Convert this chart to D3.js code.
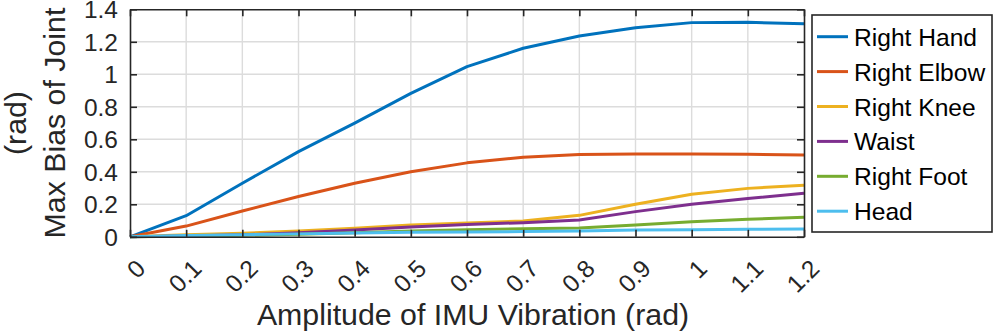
<!DOCTYPE html>
<html>
<head>
<meta charset="utf-8">
<title>Max Bias of Joint</title>
<script src="https://cdn.jsdelivr.net/npm/d3@7"></script>
<style>
  body { margin: 0; background: #fff; }
  svg { display: block; font-family: 'Liberation Sans', Arial, Helvetica, sans-serif; }
  .grid line { stroke: #dcdcdc; stroke-width: 1.4; }
  .tickLabel { font-size: 24.5px; fill: #262626; }
  .axisLabel { font-size: 30.3px; fill: #262626; }
  .legend text { font-size: 24.6px; fill: #000; }
</style>
</head>
<body>
<svg class="chart"></svg>
<script>
// x values and the six series (rad)
const amplitude = [0, 0.1, 0.2, 0.3, 0.4, 0.5, 0.6, 0.7, 0.8, 0.9, 1.0, 1.1, 1.2];
const rightHand = [0, 0.13, 0.33, 0.524, 0.70, 0.883, 1.047, 1.16, 1.236, 1.287, 1.318, 1.32, 1.311];
const rightElbow = [0, 0.066, 0.159, 0.248, 0.33, 0.40, 0.455, 0.49, 0.506, 0.51, 0.51, 0.508, 0.503];
const rightKnee = [0, 0.012, 0.022, 0.035, 0.052, 0.073, 0.085, 0.097, 0.132, 0.2, 0.262, 0.298, 0.317];
const waist = [0, 0.005, 0.012, 0.025, 0.042, 0.06, 0.075, 0.087, 0.103, 0.155, 0.2, 0.235, 0.268];
const rightFoot = [0, 0.004, 0.009, 0.015, 0.025, 0.035, 0.043, 0.05, 0.054, 0.073, 0.093, 0.108, 0.12];
const head = [0, 0.008, 0.013, 0.018, 0.024, 0.028, 0.03, 0.032, 0.036, 0.042, 0.044, 0.046, 0.048];

const seriesNames = ['Right Hand', 'Right Elbow', 'Right Knee', 'Waist', 'Right Foot', 'Head'];
const seriesColors = ['#0072bd', '#d95319', '#edb120', '#7e2f8e', '#77ac30', '#4dbeee'];

const xTicks = [0, 0.1, 0.2, 0.3, 0.4, 0.5, 0.6, 0.7, 0.8, 0.9, 1, 1.1, 1.2];
const yTicks = [0, 0.2, 0.4, 0.6, 0.8, 1, 1.2, 1.4];

const app = (function () {
  'use strict';

  function init () {
    const W = 997;
    const H = 336;
    const plot = { left: 130, right: 804, top: 9.3, bottom: 236.8 };
    const ink = '#262626';
    const tickLen = 7;

    const series = [rightHand, rightElbow, rightKnee, waist, rightFoot, head];

    const xScale = d3.scaleLinear()
      .domain([0, 1.2])
      .range([plot.left, plot.right]);

    const yScale = d3.scaleLinear()
      .domain([0, 1.4])
      .range([plot.bottom, plot.top]);

    const svg = d3.select('.chart')
      .attr('width', W)
      .attr('height', H);

    // grid
    const grid = svg.append('g').attr('class', 'grid');
    grid.selectAll('line.gx')
      .data(xTicks.slice(1, -1))
      .enter()
      .append('line')
      .attr('x1', function (d) { return xScale(d); })
      .attr('x2', function (d) { return xScale(d); })
      .attr('y1', plot.top)
      .attr('y2', plot.bottom);
    grid.selectAll('line.gy')
      .data(yTicks.slice(1, -1))
      .enter()
      .append('line')
      .attr('y1', function (d) { return yScale(d); })
      .attr('y2', function (d) { return yScale(d); })
      .attr('x1', plot.left)
      .attr('x2', plot.right);

    // lines
    const line = d3.line()
      .x(function (d, i) { return xScale(amplitude[i]); })
      .y(function (d) { return yScale(d); });

    svg.append('g')
      .selectAll('path')
      .data(series)
      .enter()
      .append('path')
      .attr('d', line)
      .attr('fill', 'none')
      .attr('stroke', function (d, i) { return seriesColors[i]; })
      .attr('stroke-width', 3)
      .attr('stroke-linejoin', 'round');

    // axes, ticks on all sides pointing inward
    const bottomAxis = d3.axisBottom(xScale).tickValues(xTicks).tickSizeInner(-tickLen).tickSizeOuter(0).tickFormat('');
    const topAxis = d3.axisTop(xScale).tickValues(xTicks).tickSizeInner(-tickLen).tickSizeOuter(0).tickFormat('');
    const leftAxis = d3.axisLeft(yScale).tickValues(yTicks).tickSizeInner(-tickLen).tickSizeOuter(0).tickFormat('');
    const rightAxis = d3.axisRight(yScale).tickValues(yTicks).tickSizeInner(-tickLen).tickSizeOuter(0).tickFormat('');

    [
      [bottomAxis, 'translate(0,' + plot.bottom + ')'],
      [topAxis, 'translate(0,' + plot.top + ')'],
      [leftAxis, 'translate(' + plot.left + ',0)'],
      [rightAxis, 'translate(' + plot.right + ',0)']
    ].forEach(function (a) {
      const g = svg.append('g')
        .attr('transform', a[1])
        .call(a[0]);
      g.selectAll('path, line')
        .attr('stroke', ink)
        .attr('stroke-width', 1.6);
    });

    // x tick labels (rotated)
    svg.append('g')
      .selectAll('text')
      .data(xTicks)
      .enter()
      .append('text')
      .attr('class', 'tickLabel')
      .attr('text-anchor', 'end')
      .attr('transform', function (d) {
        return 'translate(' + (xScale(d) + 17) + ',270) rotate(-45)';
      })
      .text(function (d) { return String(d); });

    // y tick labels
    svg.append('g')
      .selectAll('text')
      .data(yTicks)
      .enter()
      .append('text')
      .attr('class', 'tickLabel')
      .attr('text-anchor', 'end')
      .attr('x', plot.left - 12)
      .attr('y', function (d) { return yScale(d); })
      .attr('dy', '0.36em')
      .text(function (d) { return String(d); });

    // xAxis label
    svg.append('text')
      .attr('class', 'axisLabel')
      .attr('text-anchor', 'middle')
      .attr('x', (plot.left + plot.right) / 2 + 6)
      .attr('y', 325)
      .text('Amplitude of IMU Vibration (rad)');

    // yAxis label, two lines
    const yMid = (plot.top + plot.bottom) / 2;
    svg.append('text')
      .attr('class', 'axisLabel')
      .attr('text-anchor', 'middle')
      .attr('transform', 'translate(65,' + yMid + ') rotate(-90)')
      .text('Max Bias of Joint');
    svg.append('text')
      .attr('class', 'axisLabel')
      .attr('text-anchor', 'middle')
      .attr('transform', 'translate(26,' + yMid + ') rotate(-90)')
      .text('(rad)');

    // legend
    const legend = svg.append('g').attr('class', 'legend');
    legend.append('rect')
      .attr('x', 812)
      .attr('y', 15)
      .attr('width', 180)
      .attr('height', 217)
      .attr('fill', '#fff')
      .attr('stroke', ink)
      .attr('stroke-width', 1.6);

    const rows = legend.selectAll('g.row')
      .data(seriesNames)
      .enter()
      .append('g')
      .attr('transform', function (d, i) { return 'translate(0,' + (36.7 + i * 34.9) + ')'; });
    rows.append('line')
      .attr('x1', 817)
      .attr('x2', 848)
      .attr('stroke', function (d, i) { return seriesColors[i]; })
      .attr('stroke-width', 3);
    rows.append('text')
      .attr('x', 854)
      .attr('y', 9)
      .text(function (d) { return d; });
  }

  return {
    init: init
  };
}());

window.addEventListener('load', app.init);
</script>
</body>
</html>
